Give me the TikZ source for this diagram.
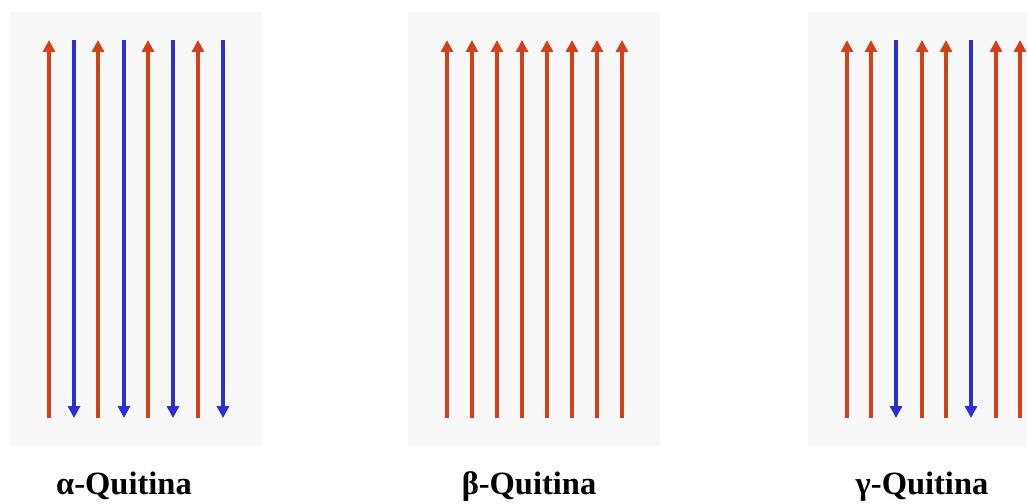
\documentclass[tikz,border=0pt]{standalone}
\usepackage{fontspec}
\setmainfont{Liberation Serif}
\usetikzlibrary{arrows.meta,positioning}
\definecolor{strandred}{RGB}{212,64,24}
\definecolor{strandblue}{RGB}{46,46,214}
\definecolor{panelgray}{RGB}{248,248,248}

\begin{document}
\begin{tikzpicture}[x=1pt, y=-1pt,
  panel/.style={fill=panelgray, draw=none},
  strandup/.style={draw=strandred, line width=3.6pt,
                   -{Triangle[length=12pt,width=12pt]}},
  stranddown/.style={draw=strandblue, line width=3.6pt,
                     -{Triangle[length=12pt,width=12pt]}},
  lab/.style={font=\bfseries\fontsize{32.5}{38}\selectfont, anchor=base},
]
\useasboundingbox (0,0) rectangle (1027,503);

% panels
\fill[panel] (10,12)  rectangle (262,446);
\fill[panel] (408,12) rectangle (660,446);
\fill[panel] (808,12) rectangle (1027,446);

% alpha: antiparallel
\foreach \x in {49,74,98,124,148,173,198,223}{
  \coordinate (a-top-\x) at (\x,40);
  \coordinate (a-bot-\x) at (\x,418);
}
\foreach \x in {49,98,148,198}   \draw[strandup]   (a-bot-\x) -- (a-top-\x);
\foreach \x in {74,124,173,223}  \draw[stranddown] (a-top-\x) -- (a-bot-\x);

% beta: parallel
\foreach \x in {447,472,497,522,547,572,597,622}{
  \coordinate (b-top-\x) at (\x,40);
  \coordinate (b-bot-\x) at (\x,418);
  \draw[strandup] (b-bot-\x) -- (b-top-\x);
}

% gamma: two up, one down
\foreach \x in {847,871,896,922,946,971,996,1020}{
  \coordinate (g-top-\x) at (\x,40);
  \coordinate (g-bot-\x) at (\x,418);
}
\foreach \x in {847,871,922,946,996,1020} \draw[strandup]   (g-bot-\x) -- (g-top-\x);
\foreach \x in {896,971}                  \draw[stranddown] (g-top-\x) -- (g-bot-\x);

% labels
\node[lab] (alpha) at (124,494) {α-Quitina};
\node[lab] (beta)  at (529,494) {β-Quitina};
\node[lab] (gamma) at (922,494) {γ-Quitina};
\end{tikzpicture}
\end{document}
